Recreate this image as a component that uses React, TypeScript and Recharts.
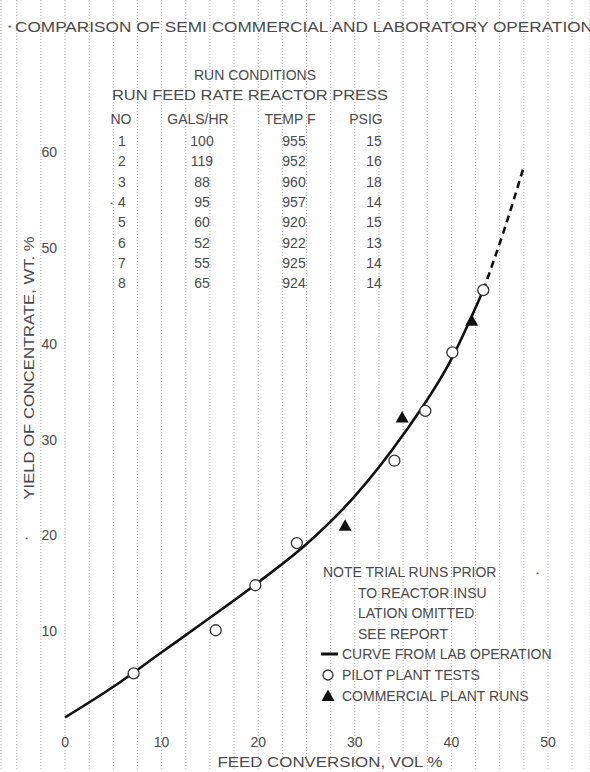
import React from 'react';
import { ComposedChart, Line, Scatter, XAxis, YAxis, CartesianGrid } from 'recharts';

// lab curve (solid part)
const curveX = [0, 5, 10, 15, 20, 25, 30, 35, 40, 43.3];
const curveY = [1, 4.2, 7.8, 11.4, 15.1, 19.1, 24.1, 30.5, 38.4, 45.6];
// dashed extrapolation
const extX = [43.3, 45.5, 47.5];
const extY = [45.6, 52, 58.5];

// pilot plant tests (open circles)
const pilotX = [7.1, 15.6, 19.7, 24.0, 34.1, 37.3, 40.1, 43.3];
const pilotY = [5.6, 10.1, 14.8, 19.2, 27.8, 33.0, 39.1, 45.6];

// commercial plant runs (filled triangles)
const commX = [29.0, 34.9, 42.1];
const commY = [21.0, 32.3, 42.4];

// run conditions table
const runNo = [1, 2, 3, 4, 5, 6, 7, 8];
const feedRate = [100, 119, 88, 95, 60, 52, 55, 65];
const reactorTemp = [955, 952, 960, 957, 920, 922, 925, 924];
const pressure = [15, 16, 18, 14, 15, 13, 14, 14];

// vertical paper rulings every 2.5 units, labels every 10
const xTicks = [-5, -2.5, 0, 2.5, 5, 7.5, 10, 12.5, 15, 17.5, 20, 22.5, 25, 27.5, 30, 32.5, 35, 37.5, 40, 42.5, 45, 47.5, 50, 52.5];
const yTicks = [10, 20, 30, 40, 50, 60];

const noteLines = ['NOTE TRIAL RUNS PRIOR', 'TO REACTOR INSU', 'LATION OMITTED', 'SEE REPORT'];

const W = 590;
const H = 772;
const FONT = '"Liberation Sans", Arial, sans-serif';
const INK = '#4a4a4a';

const toPts = (xs: number[], ys: number[]) => xs.map((x, i) => ({ x, y: ys[i] }));

const curveData = toPts(curveX, curveY);
const extData = toPts(extX, extY);
const pilotData = toPts(pilotX, pilotY);
const commData = toPts(commX, commY);

const OpenCircle = (props: any) => (
  <circle cx={props.cx} cy={props.cy} r={5.5} fill="#fff" stroke="#333" strokeWidth={1.3} />
);

const Triangle = (props: any) => {
  const { cx, cy } = props;
  return <path d={`M${cx},${cy - 6.5} L${cx + 6.5},${cy + 5} L${cx - 6.5},${cy + 5} Z`} fill="#111" />;
};

const XTick = (props: any) => {
  const v = props.payload.value;
  if (v < 0 || v % 10 !== 0) return <g />;
  return (
    <text x={props.x} y={747} textAnchor="middle" fontFamily={FONT} fontSize={14} fill={INK}>
      {v}
    </text>
  );
};

const YTick = (props: any) => (
  <text x={57} y={props.y + 5} textAnchor="end" fontFamily={FONT} fontSize={14} fill={INK}>
    {props.payload.value}
  </text>
);

function Annotations() {
  const rowY = (i: number) => 146 + i * 20.3;
  return (
    <svg width={W} height={H} style={{ position: 'absolute', left: 0, top: 0 }} fontFamily={FONT} fill={INK}>
      <text x={8} y={31} fontSize={9}>*</text>
      <text x={15} y={32} fontSize={15} textLength={578} lengthAdjust="spacingAndGlyphs">
        COMPARISON OF SEMI COMMERCIAL AND LABORATORY OPERATION
      </text>

      <text x={255} y={80} fontSize={14} textAnchor="middle">RUN CONDITIONS</text>
      <text x={112} y={100} fontSize={14} textLength={276} lengthAdjust="spacingAndGlyphs">
        RUN FEED RATE REACTOR PRESS
      </text>
      <text x={121} y={124} fontSize={14} textAnchor="middle">NO</text>
      <text x={198} y={124} fontSize={14} textAnchor="middle">GALS/HR</text>
      <text x={290} y={124} fontSize={14} textAnchor="middle">TEMP F</text>
      <text x={366} y={124} fontSize={14} textAnchor="middle">PSIG</text>
      {runNo.map((r, i) => (
        <g key={r} fontSize={14} textAnchor="middle">
          <text x={122} y={rowY(i)}>{r}</text>
          <text x={202} y={rowY(i)}>{feedRate[i]}</text>
          <text x={294} y={rowY(i)}>{reactorTemp[i]}</text>
          <text x={374} y={rowY(i)}>{pressure[i]}</text>
        </g>
      ))}
      <text x={110} y={rowY(3)} fontSize={8}>*</text>

      {noteLines.map((t, i) => (
        <text key={t} x={i === 0 ? 323 : 358} y={577 + i * 20.5} fontSize={14}>{t}</text>
      ))}
      <text x={536} y={577} fontSize={8}>*</text>

      <line x1={321} x2={338} y1={654} y2={654} stroke="#111" strokeWidth={3} />
      <text x={342} y={659} fontSize={14}>CURVE FROM LAB OPERATION</text>
      <circle cx={328} cy={675} r={5} fill="#fff" stroke="#333" strokeWidth={1.3} />
      <text x={342} y={680} fontSize={14}>PILOT PLANT TESTS</text>
      <path d="M328,689.5 L334.5,701 L321.5,701 Z" fill="#111" />
      <text x={342} y={701} fontSize={14}>COMMERCIAL PLANT RUNS</text>

      <text x={25} y={542} fontSize={8}>*</text>
      <text
        x={0}
        y={0}
        fontSize={14}
        textAnchor="middle"
        textLength={263}
        lengthAdjust="spacingAndGlyphs"
        transform="translate(34,368) rotate(-90)"
      >
        YIELD OF CONCENTRATE, WT. %
      </text>
      <text x={330} y={767} fontSize={14} textAnchor="middle" textLength={225} lengthAdjust="spacingAndGlyphs">
        FEED CONVERSION, VOL %
      </text>
    </svg>
  );
}

export default function App() {
  return (
    <div style={{ position: 'absolute', left: 0, top: 0, width: W, height: H, background: '#fff' }}>
      <ComposedChart width={W} height={H} margin={{ top: 0, right: 0, bottom: 0, left: 0 }}>
        <CartesianGrid horizontal={false} stroke="#aaa" strokeDasharray="1 2" />
        <XAxis
          type="number"
          dataKey="x"
          domain={[-6.63, 54.35]}
          allowDataOverflow
          ticks={xTicks}
          interval={0}
          height={1}
          axisLine={false}
          tickLine={false}
          tick={<XTick />}
        />
        <YAxis
          type="number"
          domain={[-4.59, 75.89]}
          allowDataOverflow
          ticks={yTicks}
          interval={0}
          width={1}
          axisLine={false}
          tickLine={false}
          tick={<YTick />}
        />
        <Line data={curveData} dataKey="y" type="monotone" stroke="#111" strokeWidth={2.6} dot={false} isAnimationActive={false} />
        <Line data={extData} dataKey="y" type="monotone" stroke="#111" strokeWidth={2.6} strokeDasharray="7 5" dot={false} isAnimationActive={false} />
        <Scatter data={pilotData} dataKey="y" shape={<OpenCircle />} isAnimationActive={false} />
        <Scatter data={commData} dataKey="y" shape={<Triangle />} isAnimationActive={false} />
      </ComposedChart>
      <Annotations />
    </div>
  );
}
